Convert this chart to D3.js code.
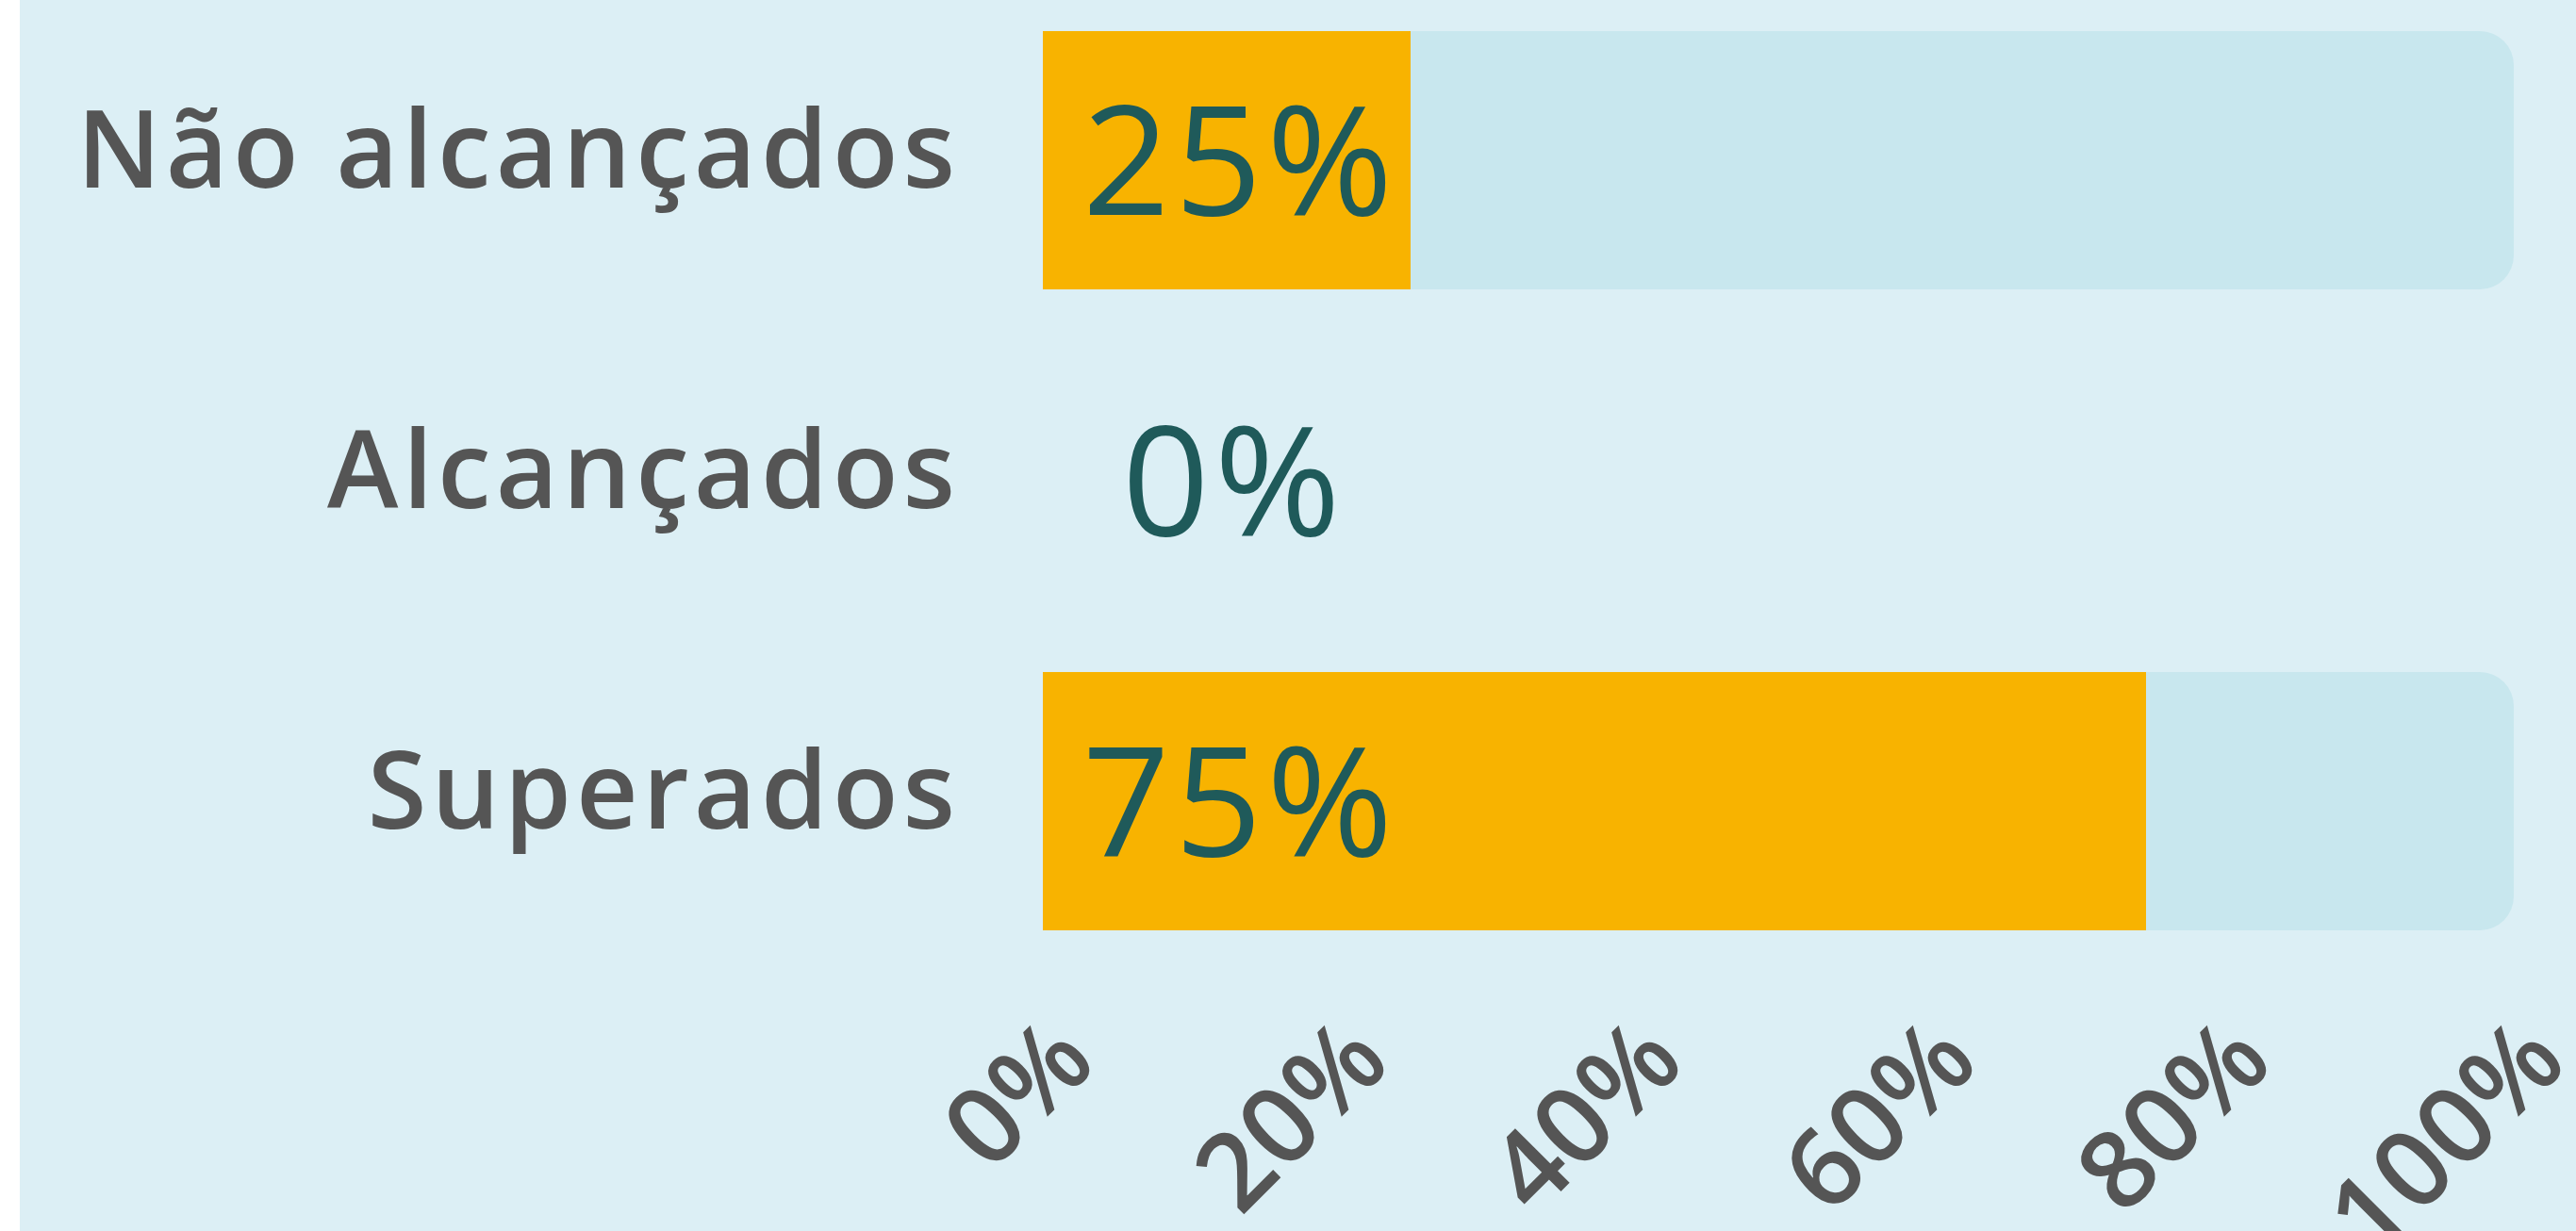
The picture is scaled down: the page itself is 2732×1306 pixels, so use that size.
<!DOCTYPE html>
<html lang="pt">
  <head>
    <meta charset="UTF-8" />
    <title>Metas</title>
    <style>
      html,
      body {
        margin: 0;
        padding: 0;
        background: #ffffff;
        overflow: hidden;
      }
      .cat-axis text {
        font-family: 'Open Sans', sans-serif;
        font-weight: 600;
        font-size: 114px;
        fill: #555555;
        letter-spacing: 5px;
      }
      .pct-axis text {
        font-family: 'Open Sans', sans-serif;
        font-weight: 600;
        font-size: 114px;
        fill: #555555;
      }
      .value-label {
        font-family: 'Open Sans', sans-serif;
        font-weight: 400;
        font-size: 162px;
        fill: #1f5a5a;
        letter-spacing: 5px;
      }
    </style>
  </head>
  <body>
    <script src="https://cdn.jsdelivr.net/npm/d3@7"></script>
    <script>
      // data
      const categories = ['Não alcançados', 'Alcançados', 'Superados'];
      const values = [25, 0, 75];
      const tickValues = [0, 20, 40, 60, 80, 100];

      const width = 2732;
      const height = 1306;
      const margin = { top: 0, right: 66, bottom: 286, left: 1106 };

      const data = categories.map((c, i) => ({ name: c, value: values[i] }));

      const svg = d3
        .select('body')
        .append('svg')
        .attr('width', width)
        .attr('height', height);

      svg
        .append('rect')
        .attr('x', 21)
        .attr('y', 0)
        .attr('width', width - 21)
        .attr('height', height)
        .attr('fill', '#dceff5');

      const xScale = d3
        .scaleLinear()
        .domain([0, 100])
        .range([margin.left, width - margin.right]);

      const yScale = d3
        .scaleBand()
        .domain(categories)
        .range([margin.top, height - margin.bottom])
        .paddingInner(0.194)
        .paddingOuter(0.097);

      const bw = yScale.bandwidth();
      const r = 36;

      // track (rest up to 100%), rounded on the right end only
      const track = (d) => {
        const x0 = xScale(0);
        const x1 = xScale(100);
        const y0 = yScale(d.name);
        const y1 = y0 + bw;
        return `M${x0},${y0}H${x1 - r}A${r},${r} 0 0 1 ${x1},${y0 + r}V${y1 - r}A${r},${r} 0 0 1 ${x1 - r},${y1}H${x0}Z`;
      };

      const rows = svg.append('g');

      rows
        .selectAll('path')
        .data(data.filter((d) => d.value > 0))
        .join('path')
        .attr('d', track)
        .attr('fill', '#c8e7ee');

      rows
        .selectAll('rect')
        .data(data)
        .join('rect')
        .attr('x', xScale(0))
        .attr('y', (d) => yScale(d.name))
        .attr('width', (d) => xScale(d.value) - xScale(0))
        .attr('height', bw)
        .attr('fill', '#f8b300');

      rows
        .selectAll('text')
        .data(data)
        .join('text')
        .attr('class', 'value-label')
        .attr('x', (d) => xScale(0) + (d.value > 0 ? 42 : 84))
        .attr('y', (d) => yScale(d.name) + bw / 2)
        .attr('dy', 58)
        .text((d) => d.value + '%');

      // category axis
      svg
        .append('g')
        .attr('class', 'cat-axis')
        .attr('transform', `translate(${margin.left - 88}, 0)`)
        .call(d3.axisLeft(yScale).tickSize(0).tickPadding(0))
        .call((g) => g.select('.domain').remove())
        .call((g) => g.selectAll('text').attr('dy', '0.25em'));

      // percent axis, labels rotated
      svg
        .append('g')
        .attr('class', 'pct-axis')
        .attr('transform', `translate(0, ${height - margin.bottom})`)
        .call(
          d3
            .axisBottom(xScale)
            .tickValues(tickValues)
            .tickFormat((d) => d + '%')
            .tickSize(0)
        )
        .call((g) => g.select('.domain').remove())
        .call((g) =>
          g
            .selectAll('text')
            .attr('x', 0)
            .attr('y', 0)
            .attr('dy', 0)
            .attr('text-anchor', 'end')
            .attr('transform', 'translate(59, 110) rotate(-45)')
        );
    </script>
  </body>
</html>
